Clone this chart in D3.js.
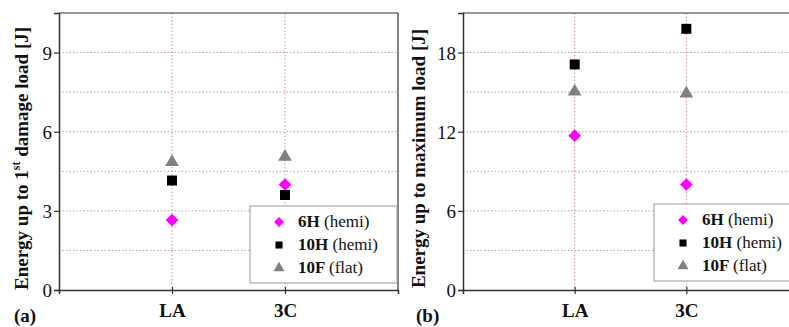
<!DOCTYPE html>
<html>
<head>
<meta charset="utf-8">
<script src="https://cdn.jsdelivr.net/npm/d3@7"></script>
<style>
  body { margin: 0; background: #fff; }
  svg text { font-family: "Times New Roman", "Liberation Serif", "DejaVu Serif", serif !important; }
</style>
</head>
<body>
<div id="chart"></div>
<script>
// categories and values
var categories = ["LA", "3C"];
var seriesNames = ["6H", "10H", "10F"];
var seriesTags = ["(hemi)", "(hemi)", "(flat)"];

// (a) energy up to 1st damage load
var damage6H = [2.65, 4.0];
var damage10H = [4.15, 3.6];
var damage10F = [4.85, 5.05];
var ticksA = [0, 3, 6, 9];
var minorA = [1.5, 4.5, 7.5];

// (b) energy up to maximum load
var max6H = [11.7, 8.0];
var max10H = [17.1, 19.8];
var max10F = [15.05, 14.9];
var ticksB = [0, 6, 12, 18];
var minorB = [3, 9, 15];

var serif = "'Times New Roman', 'Liberation Serif', 'DejaVu Serif', serif";
var colors = ["#ff00ff", "#000000", "#808080"];
var symbols = [d3.symbolSquare, d3.symbolSquare, d3.symbolTriangle];
var rotations = [45, 0, 0];
var markSize = [80, 100, 80];
var legendSize = [48, 50, 52];

var svg = d3.select("#chart").append("svg")
  .attr("width", 789).attr("height", 327);

function panel(opt) {
  var g = svg.append("g").attr("transform", "translate(" + opt.left + "," + opt.top + ")");
  var w = opt.width, h = opt.height;

  var x = d3.scaleLinear().domain([0, 3]).range([0, w]);
  var y = d3.scaleLinear().domain([0, opt.ymax]).range([h, 0]);

  // dotted grid
  g.selectAll(".hgrid").data(opt.ticks.slice(1).concat(opt.minor)).enter()
    .append("line")
    .attr("x1", 0).attr("x2", w)
    .attr("y1", function (d) { return y(d); }).attr("y2", function (d) { return y(d); })
    .attr("stroke", "#b9a0ac").attr("stroke-width", 1)
    .attr("stroke-dasharray", "1.5,2");
  g.selectAll(".vgrid").data(categories).enter()
    .append("line")
    .attr("x1", function (d, i) { return x(i + 1); }).attr("x2", function (d, i) { return x(i + 1); })
    .attr("y1", 0).attr("y2", h)
    .attr("stroke", "#d08aa2").attr("stroke-width", 1)
    .attr("stroke-dasharray", "1.5,2");

  // frame top/right
  g.append("line").attr("x1", 0).attr("x2", w).attr("y1", 0).attr("y2", 0)
    .attr("stroke", "#333").attr("stroke-width", 1.2);
  g.append("line").attr("x1", w).attr("x2", w).attr("y1", 0).attr("y2", h)
    .attr("stroke", "#333").attr("stroke-width", 1.2);

  // y axis
  var yAxis = g.append("g").call(d3.axisLeft(y).tickValues(opt.ticks).tickSize(5).tickPadding(2).tickFormat(d3.format("d")));
  yAxis.attr("font-family", serif);
  yAxis.select(".domain").attr("stroke", "#333").attr("stroke-width", 1.5);
  yAxis.selectAll(".tick line").attr("stroke", "#333").attr("stroke-width", 1.2);
  yAxis.selectAll("text").attr("font-size", 19).attr("fill", "#111").attr("dy", "0.35em");

  // x axis
  var xAxis = g.append("g").attr("transform", "translate(0," + h + ")")
    .call(d3.axisBottom(x).tickValues([1, 2]).tickSize(4).tickPadding(10)
      .tickFormat(function (d) { return categories[d - 1]; }));
  xAxis.attr("font-family", serif);
  xAxis.select(".domain").attr("stroke", "#333").attr("stroke-width", 1.5);
  xAxis.selectAll(".tick line").attr("stroke", "#333").attr("stroke-width", 1.2).attr("y1", -3);
  xAxis.selectAll("text").attr("font-size", 19).attr("font-weight", "bold").attr("fill", "#111");

  // points
  opt.series.forEach(function (vals, s) {
    g.selectAll(".pt" + s).data(vals).enter()
      .append("path")
      .attr("d", d3.symbol().type(symbols[s]).size(markSize[s]))
      .attr("transform", function (d, i) {
        return "translate(" + x(i + 1) + "," + y(d) + ") rotate(" + rotations[s] + ")";
      })
      .attr("fill", colors[s]);
  });

  // legend
  var lg = svg.append("g").attr("transform", "translate(" + opt.legend[0] + "," + opt.legend[1] + ")");
  lg.append("rect").attr("width", opt.legend[2]).attr("height", 77)
    .attr("fill", "#fff").attr("stroke", "#999").attr("stroke-width", 1);
  seriesNames.forEach(function (name, s) {
    var ry = 16 + s * 23;
    lg.append("path")
      .attr("d", d3.symbol().type(symbols[s]).size(legendSize[s]))
      .attr("transform", "translate(29," + ry + ") rotate(" + rotations[s] + ")")
      .attr("fill", colors[s]);
    var t = lg.append("text").attr("x", 48).attr("y", ry + 5)
      .attr("font-family", serif).attr("font-size", 17).attr("fill", "#111");
    t.append("tspan").attr("font-weight", "bold").text(name + " ");
    t.append("tspan").text(seriesTags[s]);
  });

  // axis title
  var title = svg.append("text")
    .attr("transform", "translate(" + opt.titleX + "," + (opt.top + h / 2 + 7) + ") rotate(-90)")
    .attr("text-anchor", "middle").attr("font-family", serif)
    .attr("font-size", 19).attr("font-weight", "bold").attr("fill", "#111");
  opt.title(title);

  svg.append("text").attr("x", opt.tagX).attr("y", 322).attr("font-family", serif)
    .attr("font-size", 19).attr("font-weight", "bold").attr("fill", "#111").text(opt.tag);
}

panel({
  left: 59, top: 13, width: 339, height: 277, ymax: 10.5,
  ticks: ticksA, minor: minorA,
  series: [damage6H, damage10H, damage10F],
  legend: [250, 206, 147], titleX: 28, tagX: 14, tag: "(a)",
  title: function (t) {
    t.append("tspan").text("Energy up to 1");
    t.append("tspan").attr("font-size", 12).attr("dy", -8).text("st");
    t.append("tspan").attr("dy", 8).text(" damage load [J]");
  }
});

panel({
  left: 463, top: 13, width: 335, height: 277, ymax: 21,
  ticks: ticksB, minor: minorB,
  series: [max6H, max10H, max10F],
  legend: [654, 204, 140], titleX: 425, tagX: 416, tag: "(b)",
  title: function (t) { t.text("Energy up to maximum load [J]"); }
});
</script>
</body>
</html>
